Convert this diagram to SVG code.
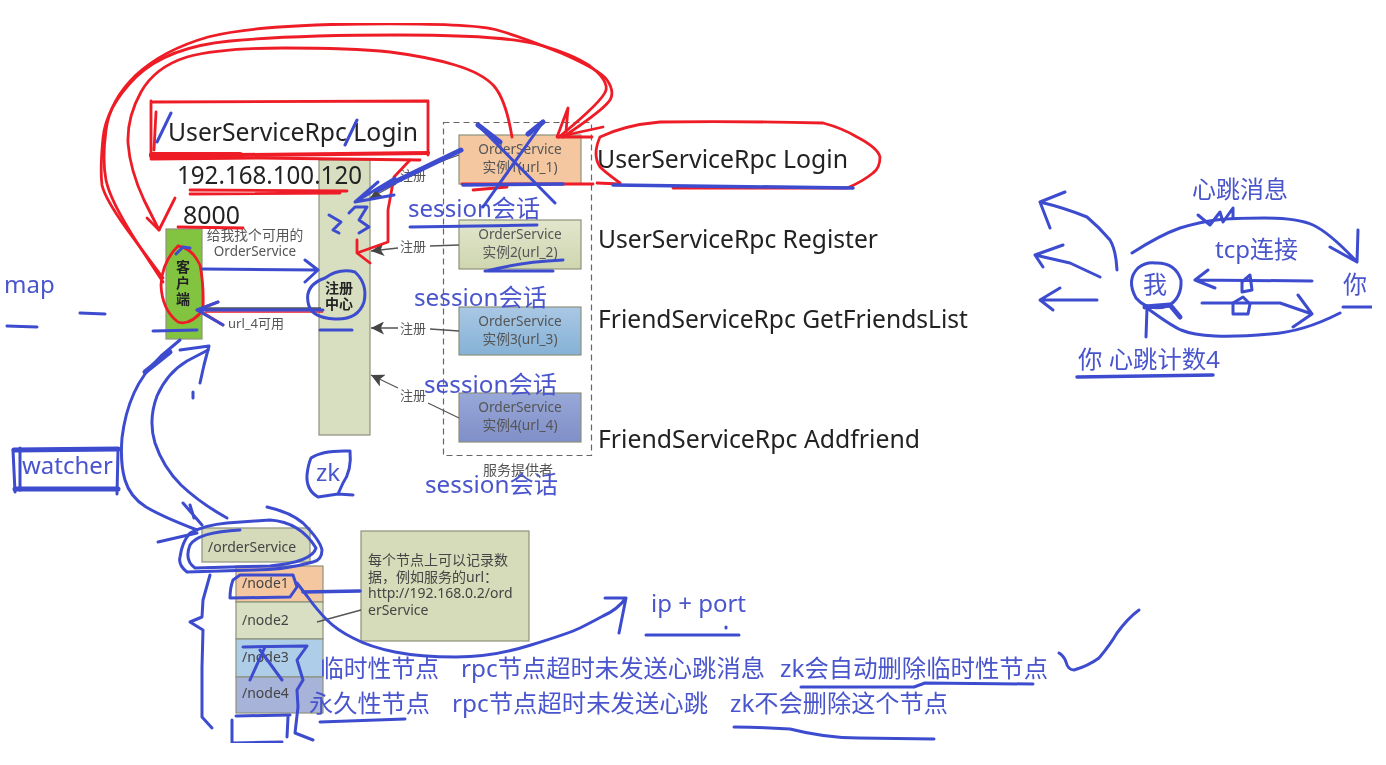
<svg xmlns="http://www.w3.org/2000/svg" width="1386" height="765" viewBox="0 0 1386 765">
<style>
text{font-family:"Noto Sans","Noto Sans CJK SC",sans-serif}
.big{font-size:26px;fill:#222}
.ink{font-size:24px;fill:#4a55cc}
.g13{font-size:13px;fill:#555}
.s{font-size:13.700px;fill:#555;text-anchor:middle}
.n{font-size:14px;fill:#444}
.box{stroke:#8d917c;stroke-width:1.2}
.mid{text-anchor:middle}
.bd{font-weight:700;font-size:14px;fill:#222;text-anchor:middle}
.r,.b,.bt,.rt{fill:none;stroke-linecap:round;stroke-linejoin:round}
.r{stroke:#ee1c25;stroke-width:2.800}
.rt{stroke:#ee1c25;stroke-width:4}
.b{stroke:#3d4ccf;stroke-width:3}
.bt{stroke:#3d4ccf;stroke-width:5}
.gl{fill:none;stroke:#555;stroke-width:1.300}
</style>
<defs>
<filter id="soft" x="0" y="0" width="1" height="1"><feGaussianBlur stdDeviation="0.55"/></filter>
<marker id="gh" viewBox="0 0 12 12" refX="0" refY="6" markerWidth="13" markerHeight="13" markerUnits="userSpaceOnUse" orient="auto"><path d="M0,6 L12,0 L9,6 L12,12Z" fill="#444"/></marker>
<linearGradient id="gA" x1="0" y1="0" x2="0" y2="1"><stop offset="0" stop-color="#e2e6cd"/><stop offset="1" stop-color="#cfd6b0"/></linearGradient>
<linearGradient id="gB" x1="0" y1="0" x2="0" y2="1"><stop offset="0" stop-color="#a9c8e4"/><stop offset="1" stop-color="#86b1d6"/></linearGradient>
<linearGradient id="gC" x1="0" y1="0" x2="0" y2="1"><stop offset="0" stop-color="#98a8d8"/><stop offset="1" stop-color="#7f8fc8"/></linearGradient>
</defs>
<rect width="1386" height="765" fill="#fff"/>
<g filter="url(#soft)">
<g id="provider-box"><rect x="443.500" y="122.500" width="148" height="333" fill="none" stroke="#666" stroke-width="1.200" stroke-dasharray="6 4"/><text class="mid" x="518" y="475" font-size="14" fill="#555">服务提供者</text></g>
<g id="client"><rect class="box" x="166" y="229" width="36" height="110" fill="#82c341"/><text class="bd"><tspan x="183" y="272">客</tspan><tspan x="183" y="288">户</tspan><tspan x="183" y="304">端</tspan></text></g>
<g id="registry"><rect class="box" x="319" y="160" width="51" height="275" fill="#d8dfc0"/><text class="bd"><tspan x="339" y="293">注册</tspan><tspan x="339" y="309">中心</tspan></text></g>
<g id="service1"><rect class="box" x="459" y="135" width="122" height="49" fill="#f4c7a1"/><text class="s" x="520" y="154">OrderService</text><text class="s" x="520" y="172">实例1(url_1)</text></g>
<g id="service2"><rect class="box" x="459" y="220" width="122" height="49" fill="url(#gA)"/><text class="s" x="520" y="239">OrderService</text><text class="s" x="520" y="257">实例2(url_2)</text></g>
<g id="service3"><rect class="box" x="459" y="307" width="122" height="48" fill="url(#gB)"/><text class="s" x="520" y="326">OrderService</text><text class="s" x="520" y="344">实例3(url_3)</text></g>
<g id="service4"><rect class="box" x="459" y="393" width="122" height="49" fill="url(#gC)"/><text class="s" x="520" y="412">OrderService</text><text class="s" x="520" y="430">实例4(url_4)</text></g>
<g id="order-root"><rect class="box" x="202" y="528" width="108" height="34" fill="#d5dabb"/><text class="n" x="208" y="552">/orderService</text></g>
<g id="node1"><rect class="box" x="236" y="566" width="87" height="36" fill="#f4c7a1"/><text class="n" x="242" y="588">/node1</text></g>
<g id="node2"><rect class="box" x="236" y="602" width="87" height="37" fill="#d9dfc2"/><text class="n" x="242" y="625">/node2</text></g>
<g id="node3"><rect class="box" x="236" y="639" width="87" height="38" fill="#aecde8"/><text class="n" x="242" y="662">/node3</text></g>
<g id="node4"><rect class="box" x="236" y="677" width="87" height="36" fill="#a8b3da"/><text class="n" x="242" y="698">/node4</text></g>
<g id="note"><rect class="box" x="361" y="531" width="168" height="110" fill="#d6dcb9"/><text class="n"><tspan x="368" y="565">每个节点上可以记录数</tspan><tspan x="368" y="582">据，例如服务的url：</tspan><tspan x="368" y="598">http://192.168.0.2/ord</tspan><tspan x="368" y="615">erService</tspan></text></g>

<g id="connectors">
<path class="gl" d="M361,610 L317,622"/>
<path class="gl" marker-start="url(#gh)" d="M370,198 L396,184 M428,166 L459,155"/>
<path class="gl" marker-start="url(#gh)" d="M371,251 L398,248 M430,246 L459,245"/>
<path class="gl" marker-start="url(#gh)" d="M371,328 L398,328 M430,329 L459,331"/>
<path class="gl" marker-start="url(#gh)" d="M371,375 L398,388 M428,403 L459,418"/>
<path fill="none" stroke="#555" stroke-width="3.500" d="M205,309 L321,309"/>
<path fill="none" stroke="#ee1c25" stroke-width="1.500" d="M205,312 L323,312"/>
</g>

<g id="labels">
<text class="g13 mid" x="255" y="240" style="font-size:13.800px">给我找个可用的</text>
<text class="g13 mid" x="255" y="256" style="font-size:13.500px">OrderService</text>
<text class="g13" x="228" y="328">url_4可用</text>
<text class="g13" x="400" y="180">注册</text>
<text class="g13" x="400" y="251">注册</text>
<text class="g13" x="400" y="333">注册</text>
<text class="g13" x="400" y="400">注册</text>
<text class="big" x="168" y="141" textLength="250" lengthAdjust="spacingAndGlyphs">UserServiceRpc Login</text>
<text class="big" x="177" y="184" textLength="185" lengthAdjust="spacingAndGlyphs">192.168.100.120</text>
<text class="big" x="183" y="224" textLength="57" lengthAdjust="spacingAndGlyphs">8000</text>
<text class="big" x="597" y="168" textLength="251" lengthAdjust="spacingAndGlyphs">UserServiceRpc Login</text>
<text class="big" x="598" y="248" textLength="280" lengthAdjust="spacingAndGlyphs">UserServiceRpc Register</text>
<text class="big" x="598" y="328" textLength="370" lengthAdjust="spacingAndGlyphs">FriendServiceRpc GetFriendsList</text>
<text class="big" x="598" y="448" textLength="322" lengthAdjust="spacingAndGlyphs">FriendServiceRpc Addfriend</text>
<text class="ink" x="408" y="217" textLength="132" lengthAdjust="spacingAndGlyphs">session会话</text>
<text class="ink" x="414" y="306" textLength="133" lengthAdjust="spacingAndGlyphs">session会话</text>
<text class="ink" x="424" y="393" textLength="133" lengthAdjust="spacingAndGlyphs">session会话</text>
<text class="ink" x="425" y="493" textLength="133" lengthAdjust="spacingAndGlyphs">session会话</text>
<text class="ink" x="4" y="293">map</text>
<text class="ink" x="22" y="474">watcher</text>
<text class="ink" x="316" y="481">zk</text>
<text class="ink" x="651" y="612">ip + port</text>
<text class="ink" x="320" y="677" textLength="119" lengthAdjust="spacingAndGlyphs">临时性节点</text>
<text class="ink" x="461" y="677" textLength="304" lengthAdjust="spacingAndGlyphs">rpc节点超时未发送心跳消息</text>
<text class="ink" x="780" y="677" textLength="268" lengthAdjust="spacingAndGlyphs">zk会自动删除临时性节点</text>
<text class="ink" x="309" y="712" textLength="121" lengthAdjust="spacingAndGlyphs">永久性节点</text>
<text class="ink" x="452" y="712" textLength="256" lengthAdjust="spacingAndGlyphs">rpc节点超时未发送心跳</text>
<text class="ink" x="730" y="712" textLength="218" lengthAdjust="spacingAndGlyphs">zk不会删除这个节点</text>
<text class="ink" x="1192" y="198">心跳消息</text>
<text class="ink" x="1215" y="258">tcp连接</text>
<text class="ink" x="1143" y="293">我</text>
<text class="ink" x="1343" y="293">你</text>
<text class="ink" x="1078" y="368" textLength="142" lengthAdjust="spacingAndGlyphs">你 心跳计数4</text>
</g>

<g id="red-ink">
<path class="r" d="M163,282 L136,241 Q110,200 106,180 Q102,160 106,130 Q110,100 136,75 Q163,50 208,37 Q253,25 363,24 Q473,23 497,30 Q522,37 561,53 Q600,70 607,80 Q614,90 611,98 Q608,107 563,137"/>
<path class="r" d="M163,278 L134,239 Q105,200 102,185 Q100,170 103,138 Q106,107 136,77 Q167,47 230,41 Q294,35 398,35 Q502,35 536,44 Q571,53 590,66 Q608,80 606,90 Q604,100 559,137"/>
<path class="r" d="M159,230 L144,200 Q130,170 128,143 Q127,117 141,92 Q155,67 187,57 Q220,48 285,48 Q351,48 390,52 Q429,57 455,65 Q482,73 494,86 Q506,100 512,137"/>
<path class="r" d="M147,218 L159,230 L175,198"/>
<path class="r" d="M152,102 L428,101 L428,155 M151,101 L151,156 M156,112 L154,150"/>
<path class="rt" d="M151,156 L428,153"/><path class="rt" style="stroke-width:6" d="M152,155 L240,155"/><path class="r" d="M151,159 L260,158 L420,160"/>
<path class="r" d="M190,190 L347,191 M190,194 L340,193 M178,227 L243,228"/>
<path class="r" d="M410,160 L394,177 L388,210 L388,242 L357,253 L370,263 M357,253 L357,240"/>
<path class="r" d="M557,137 L568,108 L566,132 M557,137 L603,127 M557,137 L592,137"/>
<path class="r" d="M620,183 Q605,172 600,167 Q592,155 600,137 Q625,125 660,122 Q740,121 823,123 Q842,128 857,137 Q878,148 880,157 Q880,168 873,173 Q862,182 847,188 L673,188"/>
<path class="r" d="M462,184 L593,184 M597,183 L620,184 M473,190 L507,187"/>
<path class="r" d="M178,246 Q162,262 161,285 Q162,310 178,322 Q190,326 203,310 Q204,285 200,265 Q192,248 178,246"/>
<path class="r" d="M197,310 L218,302 M200,311 L223,325"/>
</g>

<g id="blue-ink">
<path class="b" d="M157,142 L171,113 M345,145 L357,120"/>
<path class="bt" d="M478,125 L500,142 M543,122 L528,134"/>
<path class="b" d="M478,125 L555,203 M543,122 L483,207"/>
<path class="bt" style="stroke-width:3.500" d="M463,185 L563,184"/>
<path class="bt" d="M461,150 L378,190"/>
<path class="b" d="M395,178 L355,202 L394,195 M355,202 L378,182"/>
<path class="bt" style="stroke-width:3.500" d="M613,185 L853,188"/>
<path class="b" d="M329,215 L341,222 L333,230 L339,233 M349,213 L355,207 L367,207 L359,220 L369,227 L359,233"/>
<path class="b" d="M410,227 L537,225 M487,271 Q520,262 563,260 M485,271 L553,271"/>
<path class="b" d="M203,269 L318,270 M305,260 L318,270 L305,282"/>
<path class="b" d="M197,310 L323,310 M197,310 L218,302 M197,310 L223,325"/>
<path class="b" d="M176,254 L183,247 L190,248"/>
<path class="b" d="M325,278 Q339,268 355,272 Q368,284 364,302 Q358,320 335,319 Q310,318 308,302 Q305,285 325,278"/>
<path class="b" d="M153,331 L197,330 M320,330 L352,330"/>
<path class="b" d="M7,326 L37,327 M80,313 L105,314"/>
<path class="bt" d="M14,450 L118,449 M15,489 L118,489"/>
<path class="b" d="M13,450 L15,492 M20,448 L20,490 M118,450 L117,494"/>
<path class="b" d="M180,340 L161,356 Q143,373 134,393 Q125,413 122,438 Q120,463 125,480 Q130,497 146,507 Q163,517 197,530"/>
<path class="bt" d="M145,372 L170,352"/>
<path class="b" d="M208,350 L187,361 Q167,373 157,396 Q148,420 155,443 Q163,467 181,485 Q200,503 227,518"/>
<path class="b" d="M180,350 L209,346 L204,365 L200,383 M193,392 L193,398"/>
<path class="b" d="M183,503 L202,525 M190,505 L194,518 M158,542 L197,533"/>
<path class="b" d="M267,507 Q290,512 303,523 Q320,540 322,550 Q322,560 313,562 Q285,570 253,570 L187,572 Q178,565 180,557 Q182,542 190,533 Q205,525 227,523 L270,520 Q300,522 316,548 Q312,562 270,566 L195,568 Q184,560 190,545 Q198,532 240,530"/>
<path class="b" d="M233,580 L240,575 L293,575 L297,587 L290,597 L230,598 Q230,588 233,580"/>
<path class="b" d="M210,575 L203,600 L202,617 L190,622 L203,630 L202,667 L202,717 L212,728"/>
<path class="b" d="M232,720 L232,743 L282,742 M288,717 L287,737"/>
<path class="b" d="M243,647 L307,646 L297,660 L303,680 L297,690 L298,707 L295,733 L313,740"/>
<path class="b" d="M250,680 L265,647 M260,650 L282,680 M236,716 L290,715"/>
<path class="bt" style="stroke-width:3.500" d="M303,592 L360,591"/>
<path class="b" d="M297,583 L307,596 Q317,610 327,620 Q337,630 353,638 Q370,647 395,652 Q420,657 456,657 Q493,657 531,645 Q570,633 580,628 Q590,623 603,616 Q617,610 626,598 L605,598 M626,598 L619,633"/>
<path class="b" d="M646,635 L739,635 M726,627 L726,628"/>
<path class="b" d="M320,722 L405,719 M801,687 L914,687 L925,683 L1033,684 M734,727 Q760,727 790,729 Q825,738 859,738 L934,739"/>
<path class="b" d="M1059,653 Q1064,656 1066,662 Q1068,670 1074,670 Q1088,666 1099,658 Q1110,645 1117,633 Q1128,618 1139,610"/>
<path class="b" d="M311,458 Q322,450 350,451 Q352,470 343,483 L338,494 L353,495 M338,494 L318,497 Q306,490 307,475 Q308,465 311,458"/>
<path class="b" d="M1132,253 Q1160,235 1180,228 Q1200,222 1216,220 Q1233,218 1265,218 Q1297,218 1313,225 Q1330,233 1357,262 M1330,247 L1357,262 L1358,230"/>
<path class="b" d="M1198,215 L1210,225 L1220,212 L1223,222 L1233,208 L1233,218"/>
<path class="b" d="M1312,281 L1195,280 M1208,270 L1195,280 L1215,288"/>
<path class="b" d="M1202,303 L1280,303 L1312,314 M1298,295 L1312,314 L1293,327"/>
<path class="b" d="M1242,292 L1242,282 L1250,275 L1252,290 L1242,292 M1233,303 L1233,314 L1248,314 L1250,304 L1243,297 L1233,303"/>
<path class="b" d="M1155,263 Q1175,262 1181,280 Q1182,298 1168,306 Q1148,312 1136,298 Q1126,280 1138,268 Q1146,262 1155,263"/>
<path class="bt" d="M1145,307 L1170,305 L1180,317"/>
<path class="b" d="M1372,307 L1343,307 M1340,313 Q1303,332 1270,334 Q1237,337 1215,336 Q1193,335 1181,330 Q1170,325 1147,308 L1146,337"/>
<path class="bt" style="stroke-width:3.500" d="M1077,377 L1213,375"/>
<path class="b" d="M1117,270 Q1116,250 1110,240 Q1100,228 1087,217 Q1065,208 1040,202 M1065,192 L1040,202 L1050,228"/>
<path class="b" d="M1100,277 Q1085,270 1070,263 L1035,255 M1063,245 L1035,255 L1043,267"/>
<path class="b" d="M1097,300 L1040,300 M1060,288 L1040,300 L1053,310"/>
</g>
</g>
</svg>
